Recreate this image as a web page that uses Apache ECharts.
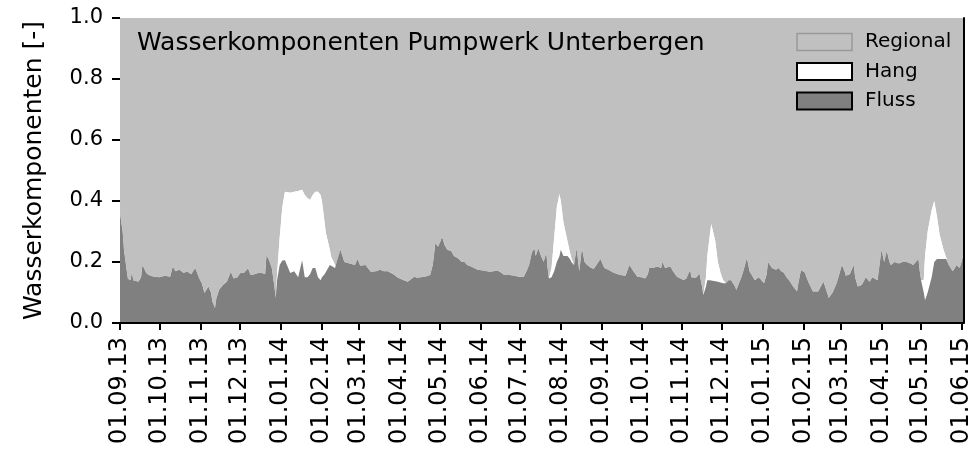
<!DOCTYPE html>
<html>
<head>
<meta charset="utf-8">
<script src="https://cdn.jsdelivr.net/npm/echarts@6/dist/echarts.min.js"></script>
<style>
  html, body { margin: 0; padding: 0; background: #fff; }
  #chart { width: 974px; height: 454px; }
</style>
</head>
<body>
<div id="chart"></div>
<script>
// Tage seit dem 01.09.2013 (Startdatum der Messreihe)
const startDate = [2013, 8, 1]
const days = [
  0, 2, 3, 5, 6, 8, 9, 10, 11, 14, 16, 17, 20, 23, 26, 30, 34, 38, 40, 42, 45, 48, 51, 54, 57, 60,
  62, 64, 67, 69, 70, 72, 73, 75, 78, 81, 84, 86, 89, 91, 94, 97, 99, 102, 104, 107, 110, 111, 113, 115,
  117, 118, 119, 121, 123, 125, 129, 132, 135, 138, 140, 142, 144, 146, 148, 150, 152, 153, 155, 156,
  159, 160, 163, 164, 167, 170, 174, 178, 180, 182, 186, 190, 194, 197, 200, 203, 206, 208, 210, 212,
  215, 218, 221, 223, 225, 228, 231, 235, 237, 239, 241, 243, 244, 246, 248, 251, 253, 256, 259, 261,
  263, 266, 271, 275, 280, 283, 286, 289, 291, 295, 299, 302, 306, 308, 310, 312, 314, 315, 317, 319,
  321, 323, 324, 325, 327, 329, 331, 333, 334, 336, 339, 341, 342, 344, 346, 348, 350, 352, 354, 357,
  359, 361, 364, 366, 367, 370, 374, 379, 383, 384, 386, 389, 392, 395, 398, 400, 401, 404, 407, 410,
  411, 413, 414, 417, 419, 422, 425, 427, 429, 432, 433, 435, 437, 439, 441, 442, 444, 445, 447, 448,
  451, 453, 455, 457, 459, 461, 463, 466, 467, 469, 471, 473, 475, 477, 478, 481, 484, 486, 488, 490,
  491, 494, 495, 497, 499, 501, 503, 505, 507, 510, 513, 514, 516, 519, 520, 522, 525, 529, 531, 533,
  535, 537, 540, 543, 545, 547, 549, 550, 553, 556, 557, 559, 562, 564, 565, 568, 570, 572, 574, 577,
  579, 581, 583, 584, 587, 590, 593, 596, 599, 601, 603, 605, 606, 607, 609, 610, 612, 615, 617, 619,
  621, 624, 626, 627, 628, 631, 634, 636, 637, 639
]
// Anteil Flusswasser
const fluss = [
  0.36, 0.30, 0.24, 0.175, 0.145, 0.14, 0.168, 0.14, 0.14, 0.135, 0.15, 0.19, 0.163, 0.155, 0.152, 0.15, 0.155, 0.152, 0.185, 0.17, 0.175, 0.165, 0.168, 0.16, 0.18, 0.147,
  0.13, 0.098, 0.12, 0.098, 0.07, 0.049, 0.08, 0.108, 0.125, 0.135, 0.168, 0.146, 0.15, 0.163, 0.165, 0.179, 0.157, 0.16, 0.163, 0.165, 0.16, 0.223, 0.205, 0.18,
  0.119, 0.082, 0.14, 0.19, 0.205, 0.206, 0.164, 0.17, 0.15, 0.206, 0.15, 0.15, 0.16, 0.18, 0.18, 0.15, 0.14, 0.15, 0.16, 0.165,
  0.19, 0.185, 0.18, 0.175, 0.24, 0.20, 0.195, 0.19, 0.21, 0.188, 0.19, 0.168, 0.17, 0.175, 0.17, 0.17, 0.162, 0.157, 0.15, 0.146,
  0.14, 0.135, 0.145, 0.152, 0.148, 0.15, 0.152, 0.157, 0.19, 0.262, 0.25, 0.27, 0.283, 0.255, 0.24, 0.235, 0.22, 0.212, 0.2, 0.2,
  0.19, 0.185, 0.175, 0.172, 0.168, 0.17, 0.172, 0.165, 0.157, 0.157, 0.155, 0.152, 0.152, 0.17, 0.19, 0.23, 0.245, 0.22, 0.245, 0.22,
  0.2, 0.23, 0.18, 0.146, 0.15, 0.17, 0.2, 0.22, 0.24, 0.22, 0.22, 0.21, 0.2, 0.19, 0.245, 0.17, 0.245, 0.2, 0.19, 0.18,
  0.178, 0.19, 0.21, 0.19, 0.18, 0.175, 0.165, 0.157, 0.155, 0.157, 0.19, 0.17, 0.152, 0.15, 0.146, 0.16, 0.18, 0.18, 0.185, 0.18,
  0.2, 0.18, 0.175, 0.185, 0.17, 0.152, 0.145, 0.141, 0.145, 0.174, 0.15, 0.148, 0.15, 0.163, 0.12, 0.092, 0.12, 0.14, 0.14, 0.14,
  0.137, 0.135, 0.133, 0.13, 0.13, 0.14, 0.14, 0.12, 0.108, 0.13, 0.152, 0.18, 0.213, 0.17, 0.165, 0.14, 0.15, 0.14, 0.13, 0.16,
  0.2, 0.18, 0.185, 0.175, 0.18, 0.17, 0.165, 0.15, 0.14, 0.12, 0.103, 0.13, 0.174, 0.165, 0.152, 0.13, 0.103, 0.103, 0.12, 0.135,
  0.11, 0.082, 0.1, 0.13, 0.16, 0.19, 0.17, 0.155, 0.16, 0.19, 0.15, 0.12, 0.125, 0.14, 0.15, 0.135, 0.15, 0.145, 0.14, 0.24,
  0.2, 0.237, 0.2, 0.19, 0.2, 0.195, 0.2, 0.2, 0.195, 0.19, 0.2, 0.21, 0.17, 0.14, 0.1, 0.075, 0.1, 0.15, 0.2, 0.21,
  0.21, 0.21, 0.21, 0.2, 0.19, 0.17, 0.19, 0.18, 0.19, 0.222
]
// Anteil Hangwasser
const hang = [
  0, 0, 0, 0, 0, 0, 0, 0, 0, 0, 0, 0, 0, 0, 0, 0, 0, 0, 0, 0, 0, 0, 0, 0, 0, 0,
  0, 0, 0, 0, 0, 0, 0, 0, 0, 0, 0, 0, 0, 0, 0, 0, 0, 0, 0, 0, 0, 0, 0, 0,
  0, 0, 0.02, 0.09, 0.175, 0.224, 0.263, 0.26, 0.283, 0.231, 0.27, 0.26, 0.243, 0.24, 0.25, 0.28, 0.28, 0.25, 0.17, 0.13,
  0.05, 0.032, 0.01, 0, 0, 0, 0, 0, 0, 0, 0, 0, 0, 0, 0, 0, 0, 0, 0, 0,
  0, 0, 0, 0, 0, 0, 0, 0, 0, 0, 0, 0, 0, 0, 0, 0, 0, 0, 0, 0,
  0, 0, 0, 0, 0, 0, 0, 0, 0, 0, 0, 0, 0, 0, 0, 0, 0, 0, 0, 0,
  0, 0, 0, 0, 0.03, 0.11, 0.18, 0.203, 0.16, 0.11, 0.05, 0.02, 0.013, 0, 0, 0, 0, 0, 0, 0,
  0, 0, 0, 0, 0, 0, 0, 0, 0, 0, 0, 0, 0, 0, 0, 0, 0, 0, 0, 0,
  0, 0, 0, 0, 0, 0, 0, 0, 0, 0, 0, 0, 0, 0, 0, 0, 0.03, 0.08, 0.15, 0.185,
  0.133, 0.065, 0.032, 0.01, 0, 0, 0, 0, 0, 0, 0, 0, 0, 0, 0, 0, 0, 0, 0, 0,
  0, 0, 0, 0, 0, 0, 0, 0, 0, 0, 0, 0, 0, 0, 0, 0, 0, 0, 0, 0,
  0, 0, 0, 0, 0, 0, 0, 0, 0, 0, 0, 0, 0, 0, 0, 0, 0, 0, 0, 0,
  0, 0, 0, 0, 0, 0, 0, 0, 0, 0, 0, 0, 0, 0, 0.04, 0.145, 0.2, 0.22, 0.2, 0.14,
  0.08, 0.03, 0.005, 0, 0, 0, 0, 0, 0, 0
]
// Achsenbeschriftungen (Monatsanfänge)
const monthLabels = [
  '01.09.13', '01.10.13', '01.11.13', '01.12.13', '01.01.14', '01.02.14', '01.03.14', '01.04.14',
  '01.05.14', '01.06.14', '01.07.14', '01.08.14', '01.09.14', '01.10.14', '01.11.14', '01.12.14',
  '01.01.15', '01.02.15', '01.03.15', '01.04.15', '01.05.15', '01.06.15'
]
const yTicks = [0, 0.2, 0.4, 0.6, 0.8, 1.0]

const FONT = 'DejaVu Sans'

function dayToTime(d) {
  return new Date(startDate[0], startDate[1], startDate[2] + d).getTime()
}
function labelToTime(s) {
  const p = s.split('.')
  return new Date(2000 + Number(p[2]), Number(p[1]) - 1, Number(p[0])).getTime()
}

const tickTimes = monthLabels.map(labelToTime)
const labelByTime = {}
monthLabels.forEach((s, i) => { labelByTime[tickTimes[i]] = s })

// Grenzlinien der gestapelten Flächen: Fluss unten, darauf Hang, Rest bis 1 = Regional
const flussData = days.map((d, i) => [dayToTime(d), fluss[i]])
const topData = days.map((d, i) => [dayToTime(d), +(fluss[i] + hang[i]).toFixed(3)])

const xMin = dayToTime(0)
const xMax = dayToTime(days[days.length - 1])

const chart = echarts.init(document.getElementById('chart'))

const frameLine = { show: true, lineStyle: { color: '#000', width: 2 } }

const option = {
  animation: false,
  backgroundColor: '#fff',
  title: {
    text: 'Wasserkomponenten Pumpwerk Unterbergen',
    left: 137,
    top: 31,
    padding: 0,
    textStyle: { fontFamily: FONT, fontSize: 25, fontWeight: 'normal', color: '#000' }
  },
  legend: {
    orient: 'vertical',
    left: 796,
    top: 32,
    padding: 0,
    itemWidth: 55,
    itemHeight: 17,
    itemGap: 9.5,
    icon: 'rect',
    textStyle: { fontFamily: FONT, fontSize: 20, color: '#000', padding: [0, 0, 0, 8] },
    data: [
      { name: 'Regional', itemStyle: { color: '#c0c0c0', borderColor: '#999', borderWidth: 1.5 } },
      { name: 'Hang', itemStyle: { color: '#fff', borderColor: '#000', borderWidth: 2 } },
      { name: 'Fluss', itemStyle: { color: '#808080', borderColor: '#000', borderWidth: 2 } }
    ]
  },
  grid: { left: 120, right: 7, top: 18, bottom: 131 },
  xAxis: [
    {
      type: 'value',
      min: xMin,
      max: xMax,
      z: 10,
      axisLine: frameLine,
      axisTick: { customValues: tickTimes, length: 7, lineStyle: { color: '#000', width: 2 } },
      axisLabel: {
        customValues: tickTimes,
        rotate: 90,
        margin: 14,
        fontFamily: FONT,
        fontSize: 24,
        color: '#000',
        formatter: v => labelByTime[v] || ''
      },
      splitLine: { show: false }
    },
    {
      // obere Rahmenlinie
      type: 'value',
      position: 'top',
      min: xMin,
      max: xMax,
      z: 10,
      axisLine: frameLine,
      axisTick: { show: false },
      axisLabel: { show: false },
      splitLine: { show: false }
    }
  ],
  yAxis: [
    {
      type: 'value',
      min: 0,
      max: 1,
      interval: 0.2,
      z: 10,
      name: 'Wasserkomponenten [-]',
      nameLocation: 'middle',
      nameGap: 73,
      nameTextStyle: { fontFamily: FONT, fontSize: 25, color: '#000' },
      axisLine: { show: false },
      axisTick: { show: true, length: 8, lineStyle: { color: '#000', width: 2 } },
      axisLabel: {
        margin: 17,
        fontFamily: FONT,
        fontSize: 21,
        color: '#000',
        formatter: v => (yTicks.indexOf(v) >= 0 ? v.toFixed(1) : '')
      },
      splitLine: { show: false }
    },
    {
      // rechte Rahmenlinie
      type: 'value',
      position: 'right',
      min: 0,
      max: 1,
      z: 10,
      axisLine: frameLine,
      axisTick: { show: false },
      axisLabel: { show: false },
      splitLine: { show: false }
    }
  ],
  series: [
    {
      // Regional: von der Oberkante Fluss+Hang bis 1.0
      name: 'Regional',
      type: 'line',
      symbol: 'none',
      data: topData,
      z: 1,
      lineStyle: { width: 0 },
      itemStyle: { color: '#c0c0c0' },
      areaStyle: { color: '#c0c0c0', opacity: 1, origin: 'end' }
    },
    {
      name: 'Hang',
      type: 'line',
      symbol: 'none',
      data: topData,
      z: 2,
      lineStyle: { width: 0 },
      itemStyle: { color: '#fff' },
      areaStyle: { color: '#fff', opacity: 1, origin: 'start' }
    },
    {
      name: 'Fluss',
      type: 'line',
      symbol: 'none',
      data: flussData,
      z: 3,
      lineStyle: { width: 0 },
      itemStyle: { color: '#808080' },
      areaStyle: { color: '#808080', opacity: 1, origin: 'start' }
    }
  ]
}

chart.setOption(option)
</script>
</body>
</html>
